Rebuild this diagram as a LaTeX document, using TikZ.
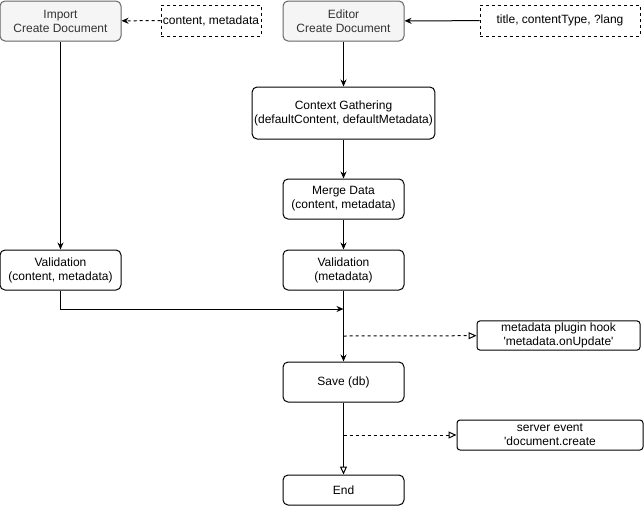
\documentclass[tikz,border=0pt]{standalone}
\usepackage{fontspec}
\setmainfont{Liberation Sans}
\usetikzlibrary{arrows.meta, shapes}

\begin{document}
\begin{tikzpicture}[x=1pt, y=-1pt, line width=1pt,
	font=\fontsize{12}{14}\selectfont,
	step box/.style={draw, rounded corners=5pt, align=center,
        minimum width=121pt, minimum height=40pt, inner sep=2pt},
	entry box/.style={step box, fill=gray!8, draw=gray!80!black, text=black!80},
	input box/.style={draw, dashed, align=center, minimum height=31pt, inner sep=1pt},
	hook box/.style={draw, rounded corners=3pt, align=center, inner sep=2pt},
	flow/.style={-{Stealth[length=7pt, width=6pt]}},
	open flow/.style={-{Triangle[open, length=8pt, width=7pt]}}]
	\useasboundingbox (0, 0) rectangle (644, 506);
	\node (import) at (60.5, 21) [entry box] {Import\\Create Document};
	\node (importargs) at (211, 20.5) [input box, minimum width=100pt]
        {content, metadata};
	\node (editor) at (343.5, 21) [entry box] {Editor\\Create Document};
	\node (editorargs) at (560, 20.5) [input box, minimum width=160pt]
        {title, contentType, ?lang};
	\node (context) at (343.5, 113) [step box, minimum width=182pt,
        minimum height=52pt] {Context Gathering\\(defaultContent, defaultMetadata)};
	\node (merge) at (343.5, 199) [step box] {Merge Data\\(content, metadata)};
	\node (validimport) at (60.5, 270) [step box] {Validation\\(content, metadata)};
	\node (valideditor) at (343.5, 270) [step box] {Validation\\(metadata)};
	\node (hook) at (558.5, 335.5) [hook box, minimum width=163pt,
        minimum height=29pt]
        {metadata plugin hook\\\textquotesingle metadata.onUpdate\textquotesingle};
	\node (save) at (343.5, 382) [step box] {Save (db)};
	\node (event) at (550, 435) [hook box, minimum width=186pt,
        minimum height=30pt] {server event\\ \textquotesingle document.create};
	\node (end) at (343.5, 490) [step box, minimum height=30pt] {End};
	\coordinate (join) at (343.5, 309);
	\coordinate (hookfrom) at (343.5, 336);
	\coordinate (eventfrom) at (343.5, 435);

	\draw [flow, dashed] (importargs) -- (import);
	\draw [flow] (editorargs) -- (editor);
	\draw [flow] (import) -- (validimport);
	\draw [flow] (editor) -- (context);
	\draw [flow] (context) -- (merge);
	\draw [flow] (merge) -- (valideditor);
	\draw [flow] (valideditor) -- (save);
	\draw [flow] (validimport.south) |- (join);
	\draw [open flow, dashed] (hookfrom) -- (hook);
	\draw [open flow] (save) -- (end);
	\draw [open flow, dashed] (eventfrom) -- (event);
\end{tikzpicture}
\end{document}
